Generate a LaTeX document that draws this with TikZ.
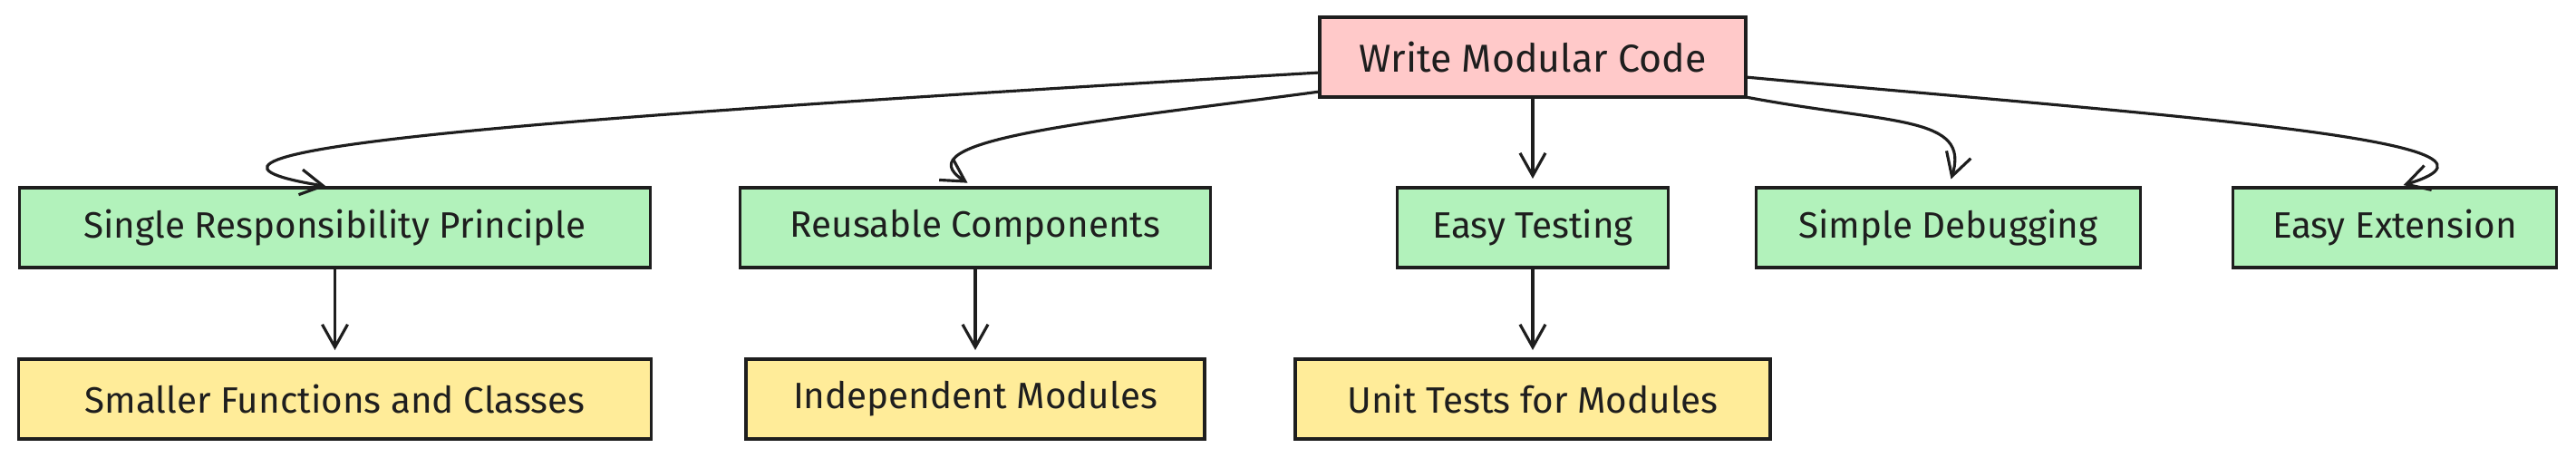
\documentclass[tikz,border=0pt]{standalone}
\usepackage{fontspec}
\setmainfont{Fira Sans}
\usepackage{xcolor}
\usepackage{tikz}
\usetikzlibrary{arrows.meta,positioning,calc}

\definecolor{ink}{HTML}{1E1E1E}
\definecolor{rootpink}{HTML}{FFC9C9}
\definecolor{leafgreen}{HTML}{B2F2BB}
\definecolor{subyellow}{HTML}{FFEC99}

\begin{document}
\begin{tikzpicture}[
  box/.style={rectangle, draw=ink, line width=1.1pt, minimum height=0.88cm, outer sep=0pt,
              inner sep=0pt, align=center, text=ink, font=\fontsize{11.5}{13}\selectfont},
  rootbox/.style={box, fill=rootpink, font=\fontsize{12.2}{14}\selectfont},
  benefit/.style={box, fill=leafgreen},
  detail/.style={box, fill=subyellow},
  arrow/.style={-{Straight Barb[length=0.25cm,width=0.28cm]}, line width=0.9pt, draw=ink,
                shorten >=0.1cm}
]
  \useasboundingbox (0,0) rectangle (28.42,-5.04);

  \node[rootbox, minimum width=4.70cm] (root) at (16.91,-0.63) {Write Modular Code};
  \node[benefit, minimum width=2.99cm, below=1.00cm of root] (testing) {Easy Testing};
  \node[benefit, minimum width=5.19cm, left=2.06cm of testing] (reuse) {Reusable Components};
  \node[benefit, minimum width=6.96cm, left=0.99cm of reuse] (srp) {Single Responsibility Principle};
  \node[benefit, minimum width=4.24cm, right=0.97cm of testing] (debug) {Simple Debugging};
  \node[benefit, minimum width=3.57cm, right=1.02cm of debug] (extend) {Easy Extension};

  \node[detail, minimum width=6.98cm, below=1.01cm of srp] (smaller) {Smaller Functions and Classes};
  \node[detail, minimum width=5.06cm, below=1.01cm of reuse] (indep) {Independent Modules};
  \node[detail, minimum width=5.24cm, below=1.01cm of testing] (unit) {Unit Tests for Modules};

  % root to benefits
  \draw[arrow] ($(root.west)+(0,-0.17)$) .. controls +(-8.55,-0.50) and +(-2.52,0.41) .. (srp.north);
  \draw[arrow] ($(root.south west)+(0,0.06)$) .. controls +(-2.55,-0.34) and +(-0.84,0.53) .. (reuse.north);
  \draw[arrow] (root.south) -- (testing.north);
  \draw[arrow] (root.south east) .. controls +(1.6,-0.3) and +(0.25,0.8) .. (debug.north);
  \draw[arrow] ($(root.east)+(0,-0.22)$) .. controls +(4.3,-0.40) and +(1.76,0.53) .. (extend.north);

  % benefits to details
  \draw[arrow] (srp) -- (smaller);
  \draw[arrow] (reuse) -- (indep);
  \draw[arrow] (testing) -- (unit);
\end{tikzpicture}
\end{document}
